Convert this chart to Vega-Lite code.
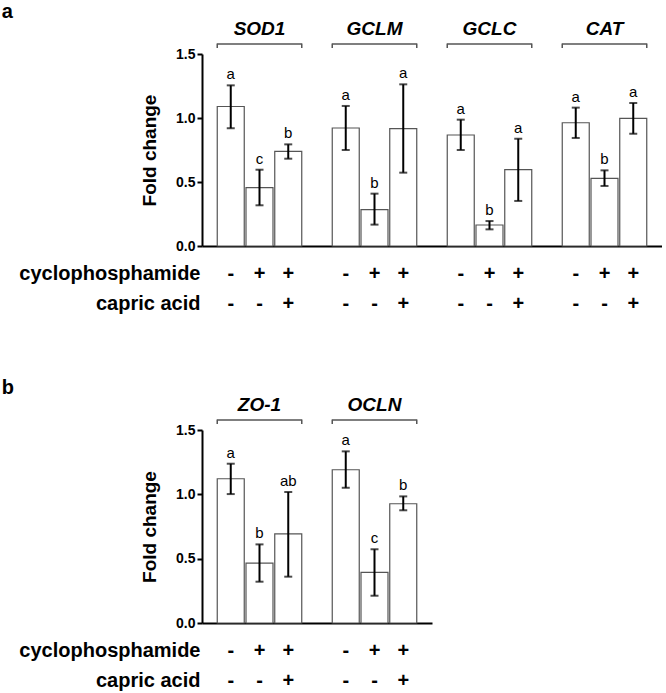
{
  "$schema": "https://vega.github.io/schema/vega-lite/v6.json",
  "padding": {"left": 1, "top": 2, "right": 0, "bottom": 0},
  "background": "white",
  "config": {
    "font": "Liberation Sans",
    "view": {"stroke": null},
    "title": {"fontSize": 20, "fontWeight": "bold", "anchor": "start", "color": "black", "offset": -3},
    "axis": {"grid": false}
  },
  "datasets": {
    "A": [
      {"cond": "SOD1 1", "gene": "SOD1", "mean": 1.09, "lo": 0.92, "hi": 1.255, "letter": "a", "cyclophosphamide": "-", "capric acid": "-"},
      {"cond": "SOD1 2", "gene": "SOD1", "mean": 0.456, "lo": 0.318, "hi": 0.596, "letter": "c", "cyclophosphamide": "+", "capric acid": "-"},
      {"cond": "SOD1 3", "gene": "SOD1", "mean": 0.74, "lo": 0.682, "hi": 0.794, "letter": "b", "cyclophosphamide": "+", "capric acid": "+"},
      {"cond": "GCLM 1", "gene": "GCLM", "mean": 0.922, "lo": 0.75, "hi": 1.094, "letter": "a", "cyclophosphamide": "-", "capric acid": "-"},
      {"cond": "GCLM 2", "gene": "GCLM", "mean": 0.284, "lo": 0.167, "hi": 0.409, "letter": "b", "cyclophosphamide": "+", "capric acid": "-"},
      {"cond": "GCLM 3", "gene": "GCLM", "mean": 0.917, "lo": 0.573, "hi": 1.263, "letter": "a", "cyclophosphamide": "+", "capric acid": "+"},
      {"cond": "GCLC 1", "gene": "GCLC", "mean": 0.867, "lo": 0.75, "hi": 0.987, "letter": "a", "cyclophosphamide": "-", "capric acid": "-"},
      {"cond": "GCLC 2", "gene": "GCLC", "mean": 0.164, "lo": 0.13, "hi": 0.195, "letter": "b", "cyclophosphamide": "+", "capric acid": "-"},
      {"cond": "GCLC 3", "gene": "GCLC", "mean": 0.596, "lo": 0.352, "hi": 0.838, "letter": "a", "cyclophosphamide": "+", "capric acid": "+"},
      {"cond": "CAT 1", "gene": "CAT", "mean": 0.963, "lo": 0.844, "hi": 1.081, "letter": "a", "cyclophosphamide": "-", "capric acid": "-"},
      {"cond": "CAT 2", "gene": "CAT", "mean": 0.529, "lo": 0.469, "hi": 0.591, "letter": "b", "cyclophosphamide": "+", "capric acid": "-"},
      {"cond": "CAT 3", "gene": "CAT", "mean": 0.997, "lo": 0.877, "hi": 1.117, "letter": "a", "cyclophosphamide": "+", "capric acid": "+"}
    ],
    "B": [
      {"cond": "ZO-1 1", "gene": "ZO-1", "mean": 1.121, "lo": 1.002, "hi": 1.238, "letter": "a", "cyclophosphamide": "-", "capric acid": "-"},
      {"cond": "ZO-1 2", "gene": "ZO-1", "mean": 0.466, "lo": 0.321, "hi": 0.611, "letter": "b", "cyclophosphamide": "+", "capric acid": "-"},
      {"cond": "ZO-1 3", "gene": "ZO-1", "mean": 0.692, "lo": 0.36, "hi": 1.018, "letter": "ab", "cyclophosphamide": "+", "capric acid": "+"},
      {"cond": "OCLN 1", "gene": "OCLN", "mean": 1.191, "lo": 1.051, "hi": 1.334, "letter": "a", "cyclophosphamide": "-", "capric acid": "-"},
      {"cond": "OCLN 2", "gene": "OCLN", "mean": 0.394, "lo": 0.212, "hi": 0.573, "letter": "c", "cyclophosphamide": "+", "capric acid": "-"},
      {"cond": "OCLN 3", "gene": "OCLN", "mean": 0.927, "lo": 0.876, "hi": 0.984, "letter": "b", "cyclophosphamide": "+", "capric acid": "+"}
    ],
    "genesA": [
      {"gene": "SOD1", "first": "SOD1 1", "mid": "SOD1 2", "last": "SOD1 3"},
      {"gene": "GCLM", "first": "GCLM 1", "mid": "GCLM 2", "last": "GCLM 3"},
      {"gene": "GCLC", "first": "GCLC 1", "mid": "GCLC 2", "last": "GCLC 3"},
      {"gene": "CAT", "first": "CAT 1", "mid": "CAT 2", "last": "CAT 3"}
    ],
    "genesB": [
      {"gene": "ZO-1", "first": "ZO-1 1", "mid": "ZO-1 2", "last": "ZO-1 3"},
      {"gene": "OCLN", "first": "OCLN 1", "mid": "OCLN 2", "last": "OCLN 3"}
    ]
  },
  "vconcat": [
    {
      "title": {"text": "a", "dx": -17},
      "spacing": 0,
      "bounds": "flush",
      "resolve": {"scale": {"x": "independent", "y": "independent"}},
      "vconcat": [
        {
          "width": 460, "height": 35,
          "data": {"name": "genesA"},
          "layer": [
            {"mark": {"type": "text", "fontSize": 19, "fontWeight": "bold", "fontStyle": "italic", "baseline": "middle", "color": "black"},
             "encoding": {
               "x": {"field": "mid", "type": "nominal", "axis": null, "scale": {"type": "band", "domain": ["SOD1 1","SOD1 2","SOD1 3","gap1","GCLM 1","GCLM 2","GCLM 3","gap2","GCLC 1","GCLC 2","GCLC 3","gap3","CAT 1","CAT 2","CAT 3"], "paddingInner": 0, "paddingOuter": 0.5}},
               "y": {"datum": 0.714, "type": "quantitative", "axis": null, "scale": {"domain": [0, 1], "nice": false}},
               "text": {"field": "gene"}}},
            {"mark": {"type": "rule", "color": "#555", "strokeWidth": 1.5},
             "encoding": {
               "x": {"field": "first", "type": "nominal", "bandPosition": 0.03, "axis": null},
               "x2": {"field": "last", "bandPosition": 0.97},
               "y": {"datum": 0.286, "type": "quantitative"}}},
            {"mark": {"type": "rule", "color": "#555", "strokeWidth": 1.5},
             "encoding": {
               "x": {"field": "first", "type": "nominal", "bandPosition": 0.03, "axis": null},
               "y": {"datum": 0.3, "type": "quantitative"},
               "y2": {"datum": 0.17}}},
            {"mark": {"type": "rule", "color": "#555", "strokeWidth": 1.5},
             "encoding": {
               "x": {"field": "last", "type": "nominal", "bandPosition": 0.97, "axis": null},
               "y": {"datum": 0.3, "type": "quantitative"},
               "y2": {"datum": 0.17}}}
          ]
        },
        {
          "width": 460, "height": 192,
          "data": {"name": "A"},
          "encoding": {
            "x": {"field": "cond", "type": "nominal", "scale": {"type": "band", "domain": ["SOD1 1","SOD1 2","SOD1 3","gap1","GCLM 1","GCLM 2","GCLM 3","gap2","GCLC 1","GCLC 2","GCLC 3","gap3","CAT 1","CAT 2","CAT 3"], "paddingInner": 0, "paddingOuter": 0.5},
                  "axis": {"labels": false, "ticks": false, "title": null, "domainWidth": 2, "domainColor": "black"}}
          },
          "layer": [
            {"mark": {"type": "bar", "fill": "white", "stroke": "#555", "strokeWidth": 1.2, "width": 27},
             "encoding": {"y": {"field": "mean", "type": "quantitative", "title": "Fold change", "scale": {"domain": [0, 1.5], "nice": false, "padding": 0},
               "axis": {"values": [0, 0.5, 1, 1.5], "format": ".1f", "labelFontSize": 14, "labelFontWeight": "bold", "labelColor": "black", "tickSize": 5, "tickWidth": 2, "tickColor": "black", "domainWidth": 2, "domainColor": "black", "labelPadding": 2, "titleFontSize": 19, "titleFontWeight": "bold", "titleColor": "black", "titlePadding": 16}}}},
            {"mark": {"type": "rule", "strokeWidth": 2, "color": "black"},
             "encoding": {"y": {"field": "lo", "type": "quantitative", "title": "Fold change"}, "y2": {"field": "hi"}}},
            {"mark": {"type": "tick", "thickness": 2, "size": 8, "color": "black"},
             "encoding": {"y": {"field": "lo", "type": "quantitative", "title": "Fold change"}}},
            {"mark": {"type": "tick", "thickness": 2, "size": 8, "color": "black"},
             "encoding": {"y": {"field": "hi", "type": "quantitative", "title": "Fold change"}}},
            {"mark": {"type": "text", "fontSize": 15, "dy": -6, "baseline": "alphabetic", "color": "black"},
             "encoding": {"y": {"field": "hi", "type": "quantitative", "title": "Fold change"}, "text": {"field": "letter"}}}
          ]
        },
        {
          "width": 460, "height": 73,
          "data": {"name": "A"},
          "transform": [{"fold": ["cyclophosphamide", "capric acid"], "as": ["agent", "sign"]}],
          "mark": {"type": "text", "fontSize": 20, "fontWeight": "bold", "baseline": "middle", "color": "black"},
          "encoding": {
            "x": {"field": "cond", "type": "nominal", "axis": null, "scale": {"type": "band", "domain": ["SOD1 1","SOD1 2","SOD1 3","gap1","GCLM 1","GCLM 2","GCLM 3","gap2","GCLC 1","GCLC 2","GCLC 3","gap3","CAT 1","CAT 2","CAT 3"], "paddingInner": 0, "paddingOuter": 0.5}},
            "y": {"field": "agent", "type": "nominal", "scale": {"type": "band", "domain": ["cyclophosphamide", "capric acid"], "paddingInner": 0, "paddingOuter": 0.2167, "align": 1},
                  "axis": {"title": null, "domain": false, "ticks": false, "labelFontSize": 20, "labelFontWeight": "bold", "labelColor": "black", "labelPadding": 2, "labelLimit": 0}},
            "text": {"field": "sign"}
          }
        }
      ]
    },
    {
      "title": {"text": "b", "dx": -17},
      "spacing": 0,
      "bounds": "flush",
      "resolve": {"scale": {"x": "independent", "y": "independent"}},
      "vconcat": [
        {
          "width": 230, "height": 35,
          "data": {"name": "genesB"},
          "layer": [
            {"mark": {"type": "text", "fontSize": 19, "fontWeight": "bold", "fontStyle": "italic", "baseline": "middle", "color": "black"},
             "encoding": {
               "x": {"field": "mid", "type": "nominal", "axis": null, "scale": {"type": "band", "domain": ["ZO-1 1","ZO-1 2","ZO-1 3","gap1","OCLN 1","OCLN 2","OCLN 3"], "paddingInner": 0, "paddingOuter": 0.5}},
               "y": {"datum": 0.714, "type": "quantitative", "axis": null, "scale": {"domain": [0, 1], "nice": false}},
               "text": {"field": "gene"}}},
            {"mark": {"type": "rule", "color": "#555", "strokeWidth": 1.5},
             "encoding": {
               "x": {"field": "first", "type": "nominal", "bandPosition": 0.03, "axis": null},
               "x2": {"field": "last", "bandPosition": 0.97},
               "y": {"datum": 0.286, "type": "quantitative"}}},
            {"mark": {"type": "rule", "color": "#555", "strokeWidth": 1.5},
             "encoding": {
               "x": {"field": "first", "type": "nominal", "bandPosition": 0.03, "axis": null},
               "y": {"datum": 0.3, "type": "quantitative"},
               "y2": {"datum": 0.17}}},
            {"mark": {"type": "rule", "color": "#555", "strokeWidth": 1.5},
             "encoding": {
               "x": {"field": "last", "type": "nominal", "bandPosition": 0.97, "axis": null},
               "y": {"datum": 0.3, "type": "quantitative"},
               "y2": {"datum": 0.17}}}
          ]
        },
        {
          "width": 230, "height": 193,
          "data": {"name": "B"},
          "encoding": {
            "x": {"field": "cond", "type": "nominal", "scale": {"type": "band", "domain": ["ZO-1 1","ZO-1 2","ZO-1 3","gap1","OCLN 1","OCLN 2","OCLN 3"], "paddingInner": 0, "paddingOuter": 0.5},
                  "axis": {"labels": false, "ticks": false, "title": null, "domainWidth": 2, "domainColor": "black"}}
          },
          "layer": [
            {"mark": {"type": "bar", "fill": "white", "stroke": "#555", "strokeWidth": 1.2, "width": 27},
             "encoding": {"y": {"field": "mean", "type": "quantitative", "title": "Fold change", "scale": {"domain": [0, 1.5], "nice": false, "padding": 0},
               "axis": {"values": [0, 0.5, 1, 1.5], "format": ".1f", "labelFontSize": 14, "labelFontWeight": "bold", "labelColor": "black", "tickSize": 5, "tickWidth": 2, "tickColor": "black", "domainWidth": 2, "domainColor": "black", "labelPadding": 2, "titleFontSize": 19, "titleFontWeight": "bold", "titleColor": "black", "titlePadding": 16}}}},
            {"mark": {"type": "rule", "strokeWidth": 2, "color": "black"},
             "encoding": {"y": {"field": "lo", "type": "quantitative", "title": "Fold change"}, "y2": {"field": "hi"}}},
            {"mark": {"type": "tick", "thickness": 2, "size": 8, "color": "black"},
             "encoding": {"y": {"field": "lo", "type": "quantitative", "title": "Fold change"}}},
            {"mark": {"type": "tick", "thickness": 2, "size": 8, "color": "black"},
             "encoding": {"y": {"field": "hi", "type": "quantitative", "title": "Fold change"}}},
            {"mark": {"type": "text", "fontSize": 15, "dy": -6, "baseline": "alphabetic", "color": "black"},
             "encoding": {"y": {"field": "hi", "type": "quantitative", "title": "Fold change"}, "text": {"field": "letter"}}}
          ]
        },
        {
          "width": 230, "height": 73,
          "data": {"name": "B"},
          "transform": [{"fold": ["cyclophosphamide", "capric acid"], "as": ["agent", "sign"]}],
          "mark": {"type": "text", "fontSize": 20, "fontWeight": "bold", "baseline": "middle", "color": "black"},
          "encoding": {
            "x": {"field": "cond", "type": "nominal", "axis": null, "scale": {"type": "band", "domain": ["ZO-1 1","ZO-1 2","ZO-1 3","gap1","OCLN 1","OCLN 2","OCLN 3"], "paddingInner": 0, "paddingOuter": 0.5}},
            "y": {"field": "agent", "type": "nominal", "scale": {"type": "band", "domain": ["cyclophosphamide", "capric acid"], "paddingInner": 0, "paddingOuter": 0.2167, "align": 1},
                  "axis": {"title": null, "domain": false, "ticks": false, "labelFontSize": 20, "labelFontWeight": "bold", "labelColor": "black", "labelPadding": 2, "labelLimit": 0}},
            "text": {"field": "sign"}
          }
        }
      ]
    }
  ],
  "spacing": 59
}
